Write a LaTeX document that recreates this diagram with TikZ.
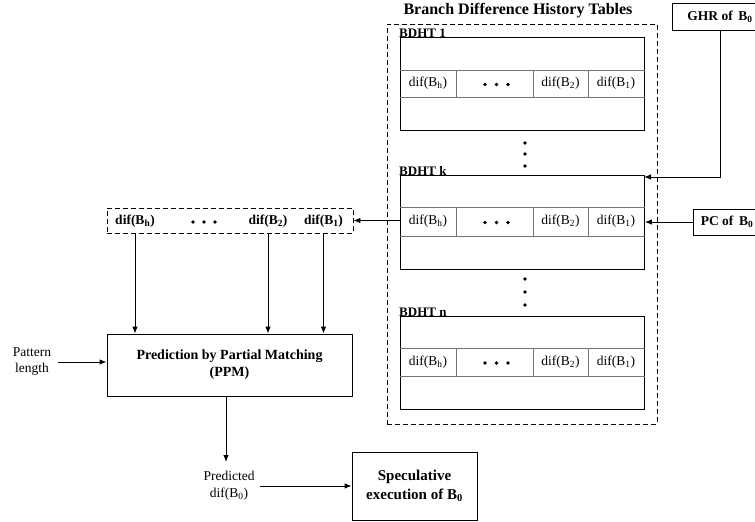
\documentclass[tikz,border=0pt]{standalone}
\usepackage{fontspec}
\setmainfont{Liberation Serif}
\usetikzlibrary{arrows.meta}
\newcommand\sbs[1]{\textsubscript{#1}}
\newcommand\bdhttable[6]{%
  % #1 name, #2 top, #3 row line 1, #4 row line 2, #5 bottom, #6 label
  \node[box, minimum width=244, minimum height={#5-#2}, anchor=north west] (#1) at (400,#2) {};
  \node[lbl, anchor=base west] (#1l) at (399,#2) {#6};
  \draw[grid] (#1.west |- 0,#3) -- (#1.east |- 0,#3);
  \draw[grid] (#1.west |- 0,#4) -- (#1.east |- 0,#4);
  \foreach \cx in {456,533,588} {\draw[grid] (\cx,#3) -- (\cx,#4);}
  \node[cell] (#1h) at (428,{(#3+#4)/2}) {dif(B\sbs{h})};
  \node[cell] (#1b2) at (560.5,{(#3+#4)/2}) {dif(B\sbs{2})};
  \node[cell] (#1b1) at (616,{(#3+#4)/2}) {dif(B\sbs{1})};
  \foreach \cx in {485,496.5,508} {\node[dot] at (\cx,{(#3+#4)/2+1}) {};}
}
\begin{document}
\begin{tikzpicture}[x=1pt,y=-1pt,
  arr/.style={-{Latex[length=7pt,width=5.5pt]}, line width=0.9pt},
  box/.style={draw, line width=0.9pt, inner sep=0},
  grid/.style={draw=black!55, line width=0.7pt},
  dashedbox/.style={draw, dash pattern=on 5pt off 3pt, line width=0.9pt, inner sep=0},
  cell/.style={font=\fontsize{13.5}{16}\selectfont, inner sep=0},
  bcell/.style={font=\bfseries\fontsize{13.5}{16}\selectfont, inner sep=0},
  lbl/.style={font=\bfseries\fontsize{13}{15}\selectfont, inner sep=0},
  dot/.style={circle, fill, inner sep=0, minimum size=3.8pt}
]
\useasboundingbox (0,0) rectangle (755,522);

% title and outer dashed frame
\node[font=\bfseries\fontsize{16}{18}\selectfont] (title) at (518,11) {Branch Difference History Tables};
\node[dashedbox, minimum width=270, minimum height=400, anchor=north west] (outer) at (387,24) {};

% tables
\bdhttable{ta}{37}{70}{97}{130}{BDHT 1}
\bdhttable{tk}{175}{207}{236}{269}{BDHT k}
\bdhttable{tn}{316}{348}{376}{409}{BDHT n}

% vertical dots
\foreach \cy in {143,154,166,279,292,305} {\node[dot] at (525,\cy) {};}

% GHR and PC
\node[box, minimum width=96, minimum height=27, font=\bfseries\fontsize{13.5}{16}\selectfont] (ghr) at (720,16.5) {GHR of \,B\sbs{0}};
\node[box, minimum width=68, minimum height=26, font=\bfseries\fontsize{13.5}{16}\selectfont] (pc) at (727,222) {PC of \,B\sbs{0}};
\coordinate (kin) at (644,177);
\draw[arr] (ghr.south) |- (kin);
\draw[arr] (pc.west) -- (pc.west -| tk.east);

% left dashed register
\node[dashedbox, minimum width=246, minimum height=25] (lbox) at (230,220.5) {};
\node[bcell] (lh) at (135,221) {dif(B\sbs{h})};
\node[bcell] (l2) at (268,221) {dif(B\sbs{2})};
\node[bcell] (l1) at (323.5,221) {dif(B\sbs{1})};
\foreach \cx in {193,204,215} {\node[dot] at (\cx,222) {};}
\draw[arr] (tk.west |- lbox.east) -- (lbox.east);

% PPM
\node[box, minimum width=245, minimum height=62, align=center, font=\bfseries\fontsize{14}{17}\selectfont] (ppm) at (229.5,365) {Prediction by Partial Matching\\(PPM)};
\draw[arr] (lh.center |- lbox.south) -- (lh.center |- ppm.north);
\draw[arr] (l2.center |- lbox.south) -- (l2.center |- ppm.north);
\draw[arr] (l1.center |- lbox.south) -- (l1.center |- ppm.north);

\node[align=center, inner sep=0, font=\fontsize{13.5}{16}\selectfont] (pat) at (32,362) {Pattern\\length};
\draw[arr] (58,362) -- (ppm.west |- 0,362);

% output
\node[align=center, inner sep=0, font=\fontsize{13.5}{17}\selectfont] (pred) at (229,486) {Predicted\\dif(B\sbs{0})};
\draw[arr] (226,396) -- (226,462);
\node[box, minimum width=125, minimum height=68, align=center, font=\bfseries\fontsize{15}{19}\selectfont] (spec) at (414.5,486) {Speculative\\execution of B\sbs{0}};
\draw[arr] (260,486) -- (spec.west);
\end{tikzpicture}
\end{document}
